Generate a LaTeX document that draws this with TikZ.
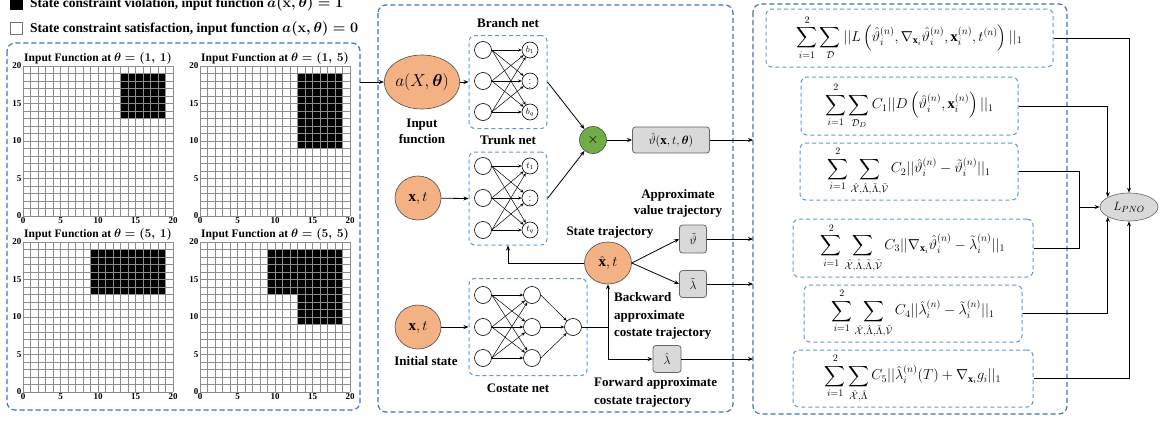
\documentclass[tikz,border=0pt]{standalone}
\usepackage{amsmath,amssymb,bm}
\usepackage{fontspec}
\setmainfont{Liberation Serif}
\usetikzlibrary{arrows.meta,shapes.geometric,calc}
\definecolor{outerblue}{HTML}{4472C4}
\definecolor{innerblue}{HTML}{5B9BD5}
\definecolor{orangefill}{HTML}{F4B183}
\definecolor{greenfill}{HTML}{70AD47}
\definecolor{grayfill}{HTML}{D9D9D9}
\newcommand{\inputgrid}[4]{%
 \begin{scope}[shift={(#1,#2)},x=7.5pt,y=7.5pt]
  \fill[black] #4;
  \draw[gridline,step=7.5pt] (0,0) grid (20,20);
  \foreach \v in {0,5,10,15,20}{%
    \node[tick,anchor=east] at (0,\v) {\v};
    \node[tick,anchor=north] at (\v,0) {\v};}
  \node[gtitle,anchor=south] at (10,20) {#3};
 \end{scope}}
\begin{document}
\begin{tikzpicture}[x=1pt,y=-1pt,
 panel/.style={draw=outerblue,dash pattern=on 5pt off 3pt,line width=1.2pt,rounded corners=8pt},
 inbox/.style={draw=innerblue,dash pattern=on 4pt off 3pt,line width=1pt,rounded corners=6pt},
 arr/.style={-{Stealth[length=5pt,width=4pt]},line width=0.8pt},
 narr/.style={-{Stealth[length=3.5pt,width=3pt]},line width=0.5pt},
 neuron/.style={circle,draw,line width=0.6pt,minimum size=17pt,inner sep=0pt,font=\fontsize{9}{10}\selectfont},
 orangec/.style={ellipse,draw=black!70,fill=orangefill,line width=0.6pt,inner sep=0pt},
 gbox/.style={draw=black!60,fill=grayfill,rounded corners=3pt,line width=0.8pt,inner sep=0pt,font=\fontsize{13}{15}\selectfont},
 lbl/.style={font=\fontsize{13}{16}\selectfont\bfseries,align=center,inner sep=0pt},
 lbll/.style={font=\fontsize{13}{17.5}\selectfont\bfseries,align=left,inner sep=0pt},
 gridline/.style={draw=black!45,line width=0.7pt},
 tick/.style={font=\fontsize{9}{10}\selectfont\bfseries,inner sep=1.5pt},
 gtitle/.style={font=\fontsize{11.5}{13}\selectfont\bfseries\boldmath,inner sep=1.5pt},
 fbox/.style={inbox,minimum height=57pt,inner sep=0pt,font=\fontsize{14.5}{16}\selectfont}
]
\useasboundingbox (0,0) rectangle (1163,423);

% legend
\node[draw=black,fill=black,minimum size=12pt,inner sep=0pt] (sq1) at (16,3) {};
\node[lbl,anchor=west,font=\fontsize{13.5}{16}\selectfont\bfseries\boldmath] (leg1) at (30,4) {State constraint violation, input function $a(\mathbf{x},\theta)=1$};
\node[draw=black!55,fill=white,line width=0.8pt,minimum size=12pt,inner sep=0pt] (sq2) at (16,28.5) {};
\node[lbl,anchor=west,font=\fontsize{13.5}{16}\selectfont\bfseries\boldmath] (leg2) at (30,29) {State constraint satisfaction, input function $a(\mathbf{x},\theta)=0$};

% panels
\draw[panel] (7,43) rectangle (360,410);
\draw[panel] (378,5) rectangle (733,412);
\draw[panel] (753,4) rectangle (1067,414);

% grids
\inputgrid{23}{216}{Input Function at $\theta=(1,\,1)$}{(13,13) rectangle (19,19)}
\inputgrid{200}{216}{Input Function at $\theta=(1,\,5)$}{(13,9) rectangle (19,19)}
\inputgrid{23}{392}{Input Function at $\theta=(5,\,1)$}{(9,13) rectangle (19,19)}
\inputgrid{200}{392}{Input Function at $\theta=(5,\,5)$}{(9,13) rectangle (19,19) (13,9) rectangle (19,13)}

% middle panel
\node[orangec,minimum width=60pt,minimum height=54pt] (ain) at (422,82) {\fontsize{16}{18}\selectfont$a(X,\boldsymbol{\theta})$};
\node[lbl] (ainl) at (422,131) {Input\\function};
\node[orangec,minimum width=46pt,minimum height=44pt] (xt1) at (418,198) {\fontsize{15}{17}\selectfont$\mathbf{x},t$};
\node[orangec,minimum width=46pt,minimum height=44pt] (xt2) at (418,327) {\fontsize{15}{17}\selectfont$\mathbf{x},t$};
\node[lbl] (xt2l) at (426,361) {Initial state};

\node[inbox,minimum width=78pt,minimum height=93pt] (bbox) at (508,82) {};
\node[lbl] (bboxl) at (508,23) {Branch net};
\node[inbox,minimum width=78pt,minimum height=93pt] (tbox) at (508,198.5) {};
\node[lbl] (tboxl) at (508,140) {Trunk net};
\node[inbox,minimum width=118pt,minimum height=97pt] (cbox) at (528,327) {};
\node[lbl] (cboxl) at (518,388) {Costate net};

% branch neurons
\node[neuron] (bl1) at (483,50) {};
\node[neuron] (bl2) at (483,81) {};
\node[neuron] (bl3) at (483,112) {};
\node[neuron,minimum size=16pt] (br1) at (530,50) {$b_1$};
\node[neuron,minimum size=16pt] (br2) at (530,81) {$\vdots$};
\node[neuron,minimum size=16pt] (br3) at (530,112) {$b_q$};
% trunk neurons
\node[neuron] (tl1) at (483,166) {};
\node[neuron] (tl2) at (483,198) {};
\node[neuron] (tl3) at (483,230) {};
\node[neuron,minimum size=16pt] (tr1) at (530,166) {$t_1$};
\node[neuron,minimum size=16pt] (tr2) at (530,198) {$\vdots$};
\node[neuron,minimum size=16pt] (tr3) at (530,230) {$t_q$};
% costate neurons
\node[neuron] (ca1) at (483,295) {};
\node[neuron] (ca2) at (483,327) {};
\node[neuron] (ca3) at (483,358) {};
\node[neuron] (cb1) at (532,295) {};
\node[neuron] (cb2) at (532,327) {};
\node[neuron] (cb3) at (532,358) {};
\node[neuron] (co) at (573,327) {};

\foreach \i in {1,2,3}{\foreach \j in {1,2,3}{%
  \draw[narr] (bl\i.east) -- (br\j);
  \draw[narr] (tl\i.east) -- (tr\j);
  \draw[narr] (ca\i.east) -- (cb\j);}
  \draw[narr] (cb\i.east) -- (co);}

\node[circle,draw=black!70,fill=greenfill,line width=0.6pt,minimum size=27pt,inner sep=0pt] (mul) at (593,140) {\fontsize{14}{16}\selectfont$\times$};
\node[gbox,minimum width=77pt,minimum height=26pt] (vhat) at (671,140) {$\hat{\vartheta}(\mathbf{x},t,\boldsymbol{\theta})$};
\node[orangec,minimum width=47pt,minimum height=42pt] (xh) at (608,263) {\fontsize{15}{17}\selectfont$\hat{\mathbf{x}},t$};
\node[lbl] (xhl) at (610,232) {State trajectory};
\node[lbl] (vtl) at (678,203.5) {Approximate\\value trajectory};
\node[gbox,minimum width=27pt,minimum height=28pt] (vt) at (693,239) {$\tilde{\vartheta}$};
\node[gbox,minimum width=27pt,minimum height=27pt] (lt) at (693,284) {$\tilde{\lambda}$};
\node[lbll,anchor=west] (ltl) at (614,316) {Backward\\approximate\\costate trajectory};
\node[gbox,minimum width=28pt,minimum height=27pt] (lh) at (667,359) {$\hat{\lambda}$};
\node[lbll,anchor=west] (lhl) at (594,392.5) {Forward approximate\\costate trajectory};

\coordinate (pin) at (360,82);
\coordinate (r1) at (753,140);
\coordinate (r2) at (753,239);
\coordinate (r3) at (753,284);
\coordinate (r4) at (753,359);
\coordinate (jn) at (608,327);

\draw[arr] (pin) -- (ain);
\draw[arr] (ain) -- (bbox.west);
\draw[arr] (xt1) -- (tbox.west);
\draw[arr] (xt2) -- (cbox.west);
\draw[arr] (bbox.east) -- (mul);
\draw[arr] (tbox.east) -- (mul);
\draw[arr] (mul) -- (vhat);
\draw[arr] (vhat) -- (r1);
\draw[arr] (xh.east) -- (vt.west);
\draw[arr] (xh.east) -- (lt.west);
\draw[arr] (vt) -- (r2);
\draw[arr] (lt) -- (r3);
\draw[arr] (xh.west) -| (tbox.south);
\draw[line width=0.8pt] (co) -- (jn);
\draw[arr] (jn) -- (xh);
\draw[arr] (jn) |- (lh.west);
\draw[arr] (lh) -- (r4);

% right panel
\node[fbox,minimum width=287pt,minimum height=58pt] (f1) at (909.5,38) {$\displaystyle\sum_{i=1}^{2}\sum_{\mathcal{D}}||L\left(\hat{\vartheta}_i^{(n)},\nabla_{\mathbf{x}_i}\hat{\vartheta}_i^{(n)},\mathbf{x}_i^{(n)},t^{(n)}\right)||_1$};
\node[fbox,minimum width=217pt,minimum height=58pt] (f2) at (909.5,106) {$\displaystyle\sum_{i=1}^{2}\sum_{\mathcal{D}_D}C_1||D\left(\hat{\vartheta}_i^{(n)},\mathbf{x}_i^{(n)}\right)||_1$};
\node[fbox,minimum width=218pt] (f3) at (909,171.5) {$\displaystyle\sum_{i=1}^{2}\sum_{\hat{\mathcal{X}},\hat{\Lambda},\tilde{\Lambda},\tilde{\mathcal{V}}}C_2||\hat{\vartheta}_i^{(n)}-\tilde{\vartheta}_i^{(n)}||_1$};
\node[fbox,minimum width=240pt,minimum height=58pt] (f4) at (913,248) {$\displaystyle\sum_{i=1}^{2}\sum_{\hat{\mathcal{X}},\hat{\Lambda},\tilde{\Lambda},\tilde{\mathcal{V}}}C_3||\nabla_{\mathbf{x}_i}\hat{\vartheta}_i^{(n)}-\tilde{\lambda}_i^{(n)}||_1$};
\node[fbox,minimum width=218pt] (f5) at (913,313.5) {$\displaystyle\sum_{i=1}^{2}\sum_{\hat{\mathcal{X}},\hat{\Lambda},\tilde{\Lambda},\tilde{\mathcal{V}}}C_4||\hat{\lambda}_i^{(n)}-\tilde{\lambda}_i^{(n)}||_1$};
\node[fbox,minimum width=240pt] (f6) at (913,378.5) {$\displaystyle\sum_{i=1}^{2}\sum_{\hat{\mathcal{X}},\hat{\Lambda}}C_5||\hat{\lambda}_i^{(n)}(T)+\nabla_{\mathbf{x}_i}g_i||_1$};

\node[ellipse,draw=black!60,fill=grayfill,line width=0.6pt,minimum width=58pt,minimum height=28pt,inner sep=0pt] (Lp) at (1129,207) {\fontsize{13}{15}\selectfont$L_{PNO}$};
\coordinate (mrg) at (1079,207);

\draw[arr] (f1.east) -| (Lp.north);
\draw[arr] (f2.east) -| (Lp.155);
\draw[line width=0.8pt] (f3.east) -| (mrg);
\draw[line width=0.8pt] (f4.east) -| (mrg);
\draw[arr] (mrg) -- (Lp.west);
\draw[arr] (f5.east) -| (Lp.205);
\draw[arr] (f6.east) -| (Lp.south);
\end{tikzpicture}
\end{document}
